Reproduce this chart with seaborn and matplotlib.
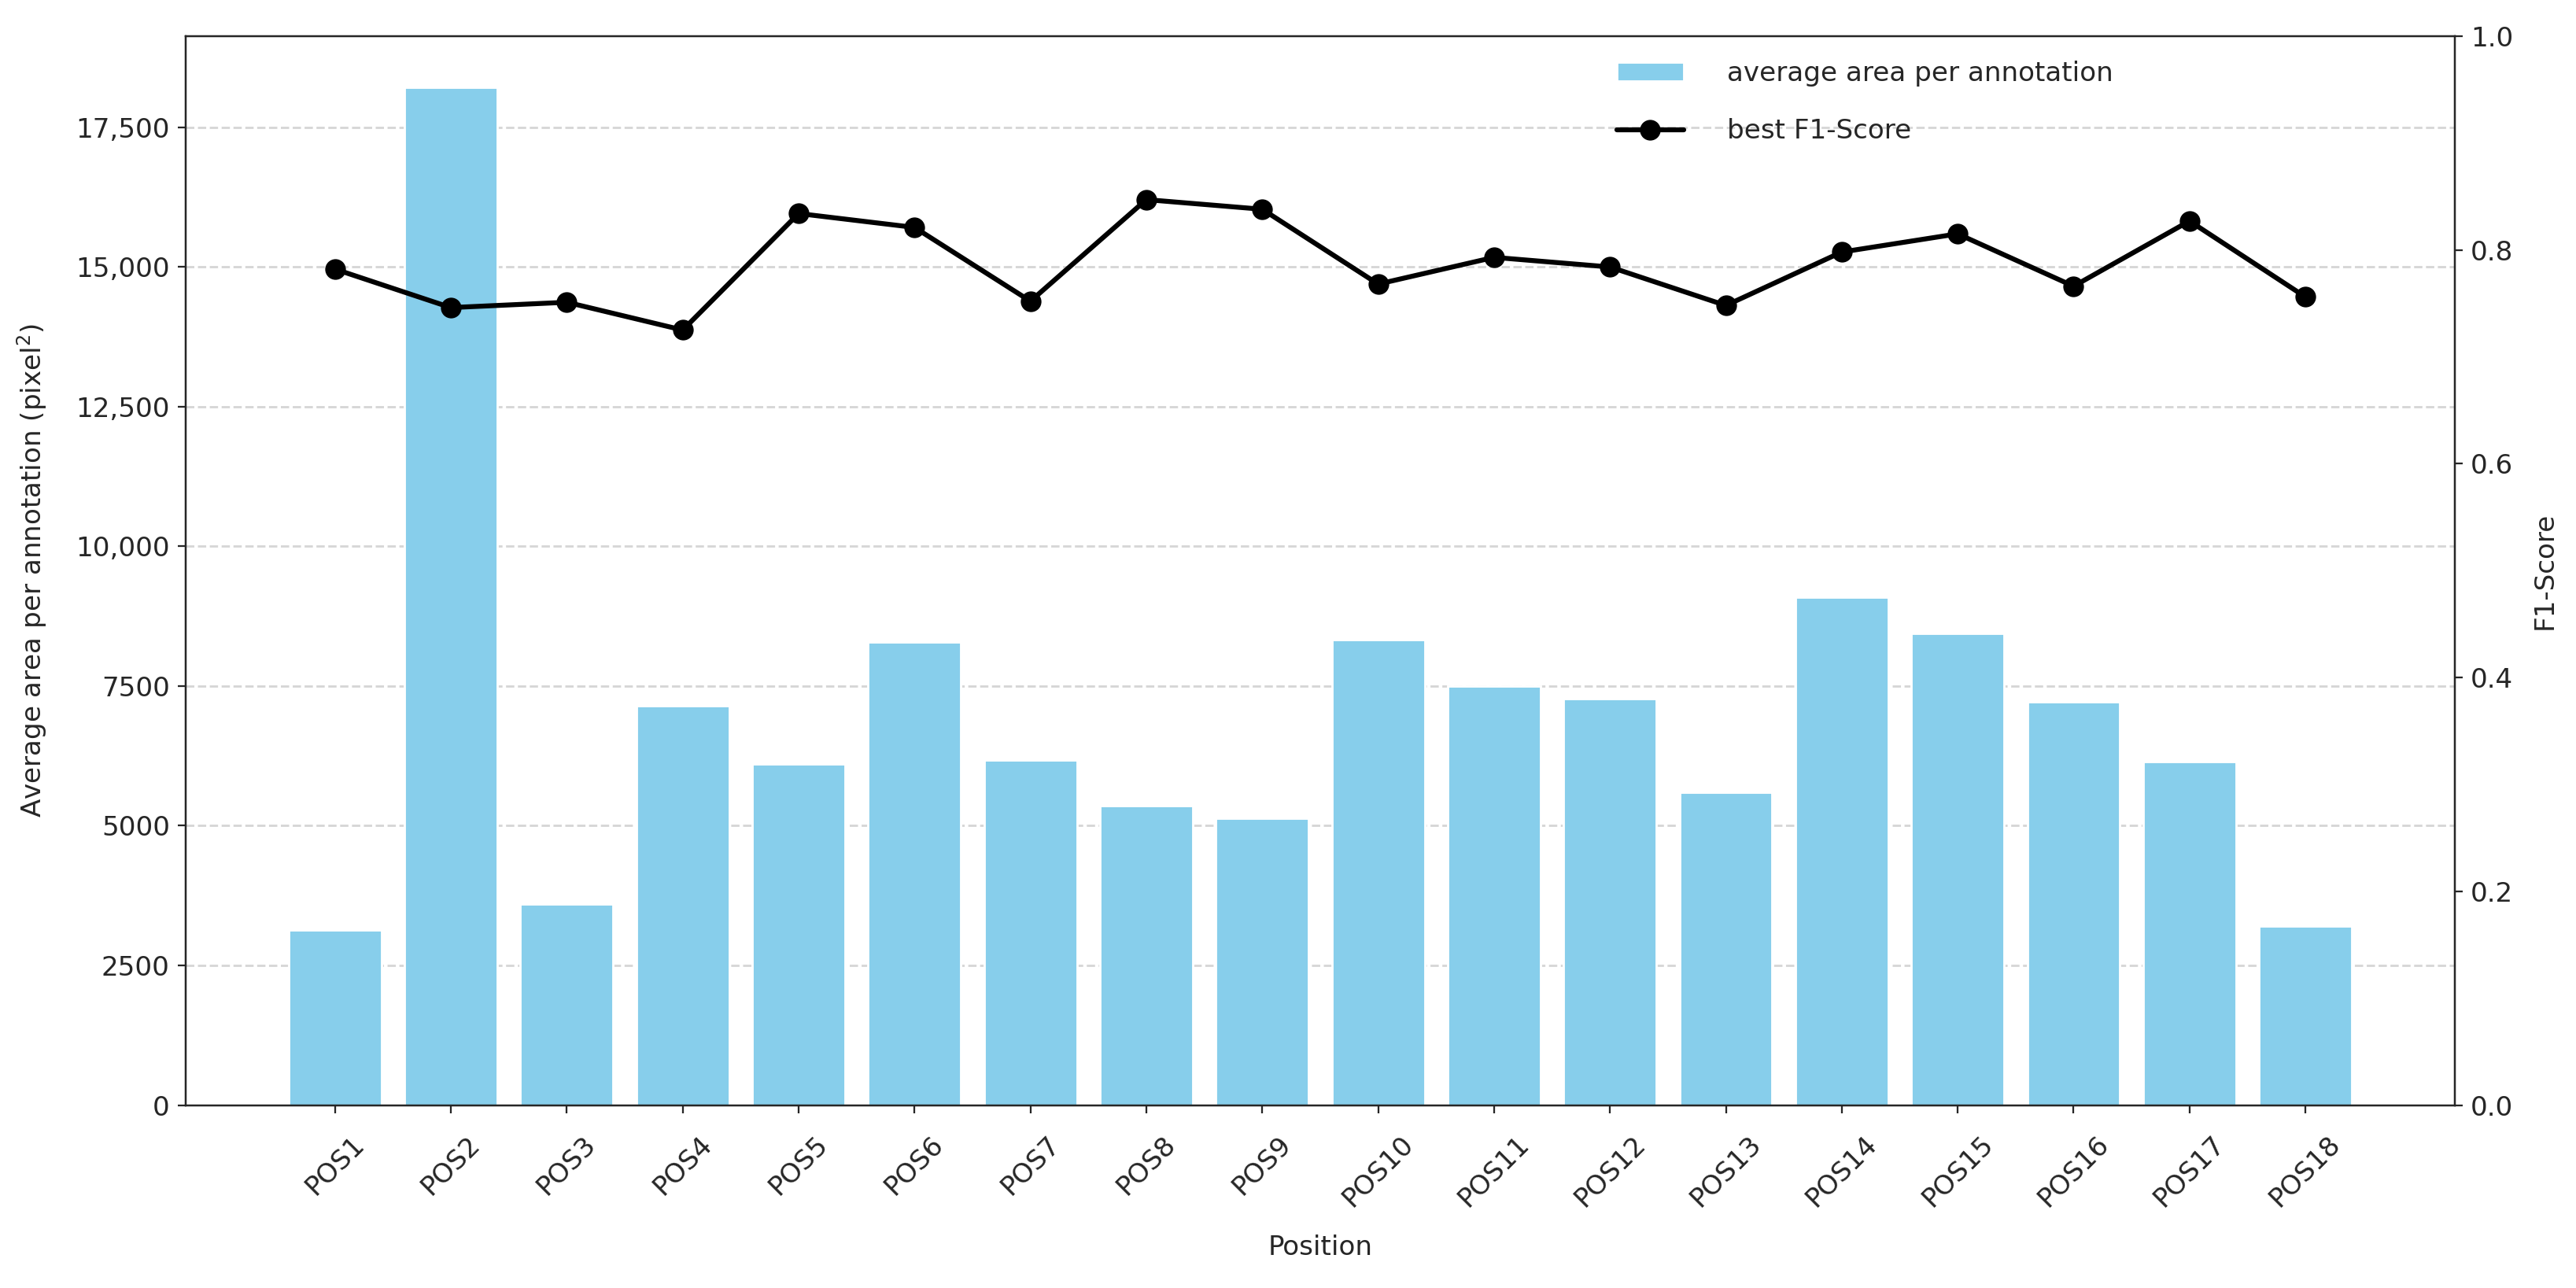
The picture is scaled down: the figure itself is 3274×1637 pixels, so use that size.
import numpy as np
import pandas as pd
import matplotlib
matplotlib.use('Agg')
import matplotlib.pyplot as plt
from matplotlib.ticker import FuncFormatter, MultipleLocator
import seaborn as sns

positions = [f'POS{i}' for i in range(1, 19)]
avg_area = [3130, 18220, 3600, 7150, 6100, 8280, 6170, 5360, 5130,
            8330, 7500, 7270, 5600, 9090, 8440, 7210, 6150, 3210]
best_f1 = [0.782, 0.746, 0.751, 0.725, 0.834, 0.821, 0.752, 0.847, 0.838,
           0.768, 0.793, 0.784, 0.748, 0.798, 0.815, 0.766, 0.827, 0.756]

df = pd.DataFrame({'Position': positions, 'area': avg_area, 'f1': best_f1,
                   'idx': np.arange(len(positions))})

sns.set_style('ticks')
plt.rcParams['font.family'] = ['DejaVu Sans']

fig, ax = plt.subplots(figsize=(16, 8), dpi=204.625)
fig.subplots_adjust(left=0.072, right=0.953, top=0.972, bottom=0.142)

sns.barplot(data=df, x='Position', y='area', color='skyblue', saturation=1,
            width=0.8, ax=ax, label='average area per annotation')
n = len(positions)
# same padding as matplotlib's default 5% margin around the bars
ax.set_xlim(-0.4 - 0.89, n - 1 + 0.4 + 0.89)
ax.set_ylim(0, max(avg_area) * 1.05)
ax.yaxis.set_major_locator(MultipleLocator(2500))
ax.yaxis.set_major_formatter(FuncFormatter(
    lambda v, p: f'{v:,.0f}' if v >= 10000 else f'{v:.0f}'))
ax.grid(axis='y', linestyle='--', color='#cccccc', alpha=0.8, linewidth=1)
ax.set_axisbelow(True)
ax.set_xlabel('Position', fontsize=12, labelpad=10)
ax.set_ylabel('Average area per annotation (pixel$^2$)', fontsize=12, labelpad=12)
ax.tick_params(axis='x', labelrotation=45, labelsize=12, pad=8)
ax.tick_params(axis='y', labelsize=12)
for spine in ax.spines.values():
    spine.set_color('#222222')

ax2 = ax.twinx()
sns.lineplot(data=df, x='idx', y='f1', color='black', marker='o',
             markersize=8.5, markeredgecolor='black', linewidth=2.2, ax=ax2,
             label='best F1-Score')
ax2.set_ylim(0, 1)
ax2.set_ylabel('F1-Score', fontsize=12, labelpad=8)
ax2.tick_params(axis='y', labelsize=12)
ax2.set_xlim(ax.get_xlim())

h1, l1 = ax.get_legend_handles_labels()
h2, l2 = ax2.get_legend_handles_labels()
if ax2.get_legend():
    ax2.get_legend().remove()
if ax.get_legend():
    ax.get_legend().remove()
ax2.legend(h1 + h2, l1 + l2, loc='upper left', bbox_to_anchor=(0.62, 1.0),
           frameon=False, fontsize=12, labelspacing=1.2, handlelength=2.5,
           handletextpad=1.6)

plt.savefig('out.png', dpi=204.625)
plt.close()
